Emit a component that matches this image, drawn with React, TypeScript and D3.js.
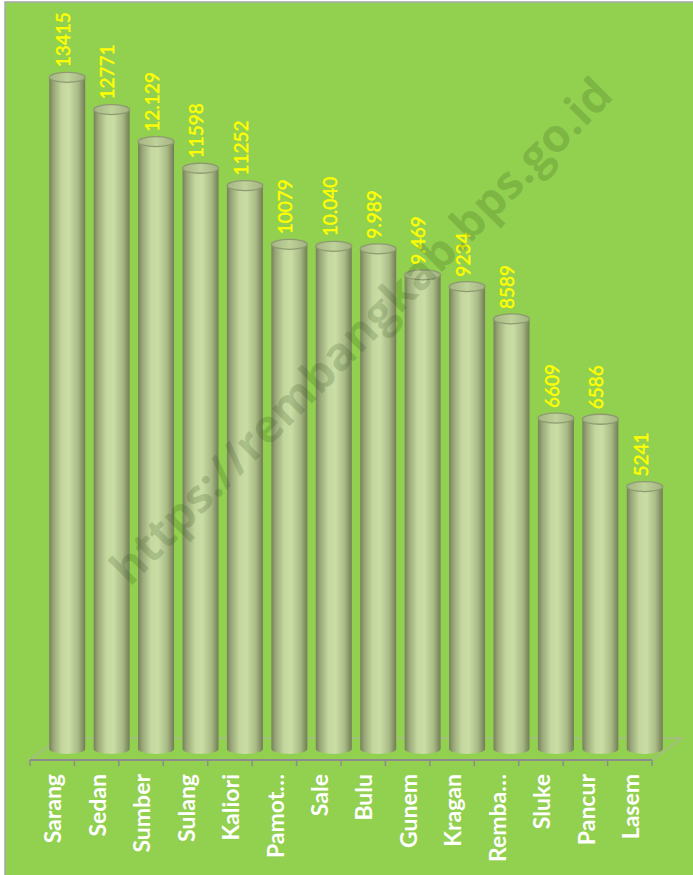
import React from "react";
import * as d3 from "d3";

const categories = ["Sarang", "Sedan", "Sumber", "Sulang", "Kaliori", "Pamot…", "Sale", "Bulu", "Gunem", "Kragan", "Remba…", "Sluke", "Pancur", "Lasem"];
const values = [13415, 12771, 12129, 11598, 11252, 10079, 10040, 9989, 9469, 9234, 8589, 6609, 6586, 5241];
const valueLabels = ["13415", "12771", "12.129", "11598", "11252", "10079", "10.040", "9.989", "9.469", "9234", "8589", "6609", "6586", "5241"];
const yDomain = [0, 14000];
const watermark = "https://rembangkab.bps.go.id";

const W = 693;
const H = 875;

export default function App() {
  const x = d3.scaleBand<string>().domain(categories).range([30, 652]).padding(0);
  const y = d3.scaleLinear().domain(yDomain).range([749, 48]);
  const bw = x.bandwidth();
  const depthX = 30;
  const depthY = 22;
  const cw = bw * 0.81;
  const ry = 5;
  const floorY = 760;
  const floor = d3.path();
  floor.moveTo(30, floorY);
  floor.lineTo(652, floorY);
  floor.lineTo(652 + depthX, floorY - depthY);
  floor.lineTo(30 + depthX, floorY - depthY);
  floor.closePath();

  return (
    <svg width={W} height={H} style={{ position: "absolute", left: 0, top: 0, background: "#fff" }}>
      <defs>
        <linearGradient id="cyl" x1="0" x2="1" y1="0" y2="0">
          <stop offset="0%" stopColor="#75805a" />
          <stop offset="12%" stopColor="#99a778" />
          <stop offset="35%" stopColor="#c3d79e" />
          <stop offset="55%" stopColor="#c9dda5" />
          <stop offset="80%" stopColor="#aabb86" />
          <stop offset="100%" stopColor="#717d56" />
        </linearGradient>
        <linearGradient id="cyltop" x1="0" x2="1" y1="0" y2="0">
          <stop offset="0%" stopColor="#a4b384" />
          <stop offset="50%" stopColor="#c0d39a" />
          <stop offset="100%" stopColor="#a2b182" />
        </linearGradient>
      </defs>
      <rect x={5} y={2} width={W} height={H} fill="#92D050" stroke="#a6a6a6" strokeWidth={1.5} />
      {/* floor */}
      <path d={floor.toString()} fill="#92D050" stroke="#a9b98f" strokeWidth={1.5} />
      <line x1={30} x2={652} y1={floorY} y2={floorY} stroke="#8c8c8c" strokeWidth={2} />
      {categories.map((c, i) => (
        <line key={"t" + i} x1={x(c)!} x2={x(c)!} y1={floorY} y2={floorY + 6} stroke="#8c8c8c" strokeWidth={1.5} />
      ))}
      <line x1={652} x2={652} y1={floorY} y2={floorY + 6} stroke="#8c8c8c" strokeWidth={1.5} />
      {/* cylinders */}
      {categories.map((c, i) => {
        const cx = x(c)! + bw / 2 + depthX / 2;
        const base = y(0);
        const top = y(values[i]);
        const l = cx - cw / 2;
        const r = cx + cw / 2;
        const body = `M${l},${top} L${l},${base} A${cw / 2},${ry} 0 0 0 ${r},${base} L${r},${top} Z`;
        return (
          <g key={"c" + i}>
            <path d={body} fill="url(#cyl)" />
            <ellipse cx={cx} cy={top} rx={cw / 2} ry={ry} fill="url(#cyltop)" stroke="#8e9b70" strokeWidth={1.3} />
            <text
              transform={`translate(${cx - 4},${top - ry - 5}) rotate(-90)`}
              dy="0.36em"
              fill="#FFFF00"
              stroke="#FFFF00"
              strokeWidth={0.45}
              fontFamily="Lato, 'Open Sans', sans-serif"
              fontSize={19}
            >
              {valueLabels[i]}
            </text>
          </g>
        );
      })}
      {/* category labels */}
      {categories.map((c, i) => (
        <text
          key={"l" + i}
          transform={`translate(${x(c)! + bw / 2 + 1},774) rotate(-90)`}
          dy="0.36em"
          textAnchor="end"
          fill="#ffffff"
          fontFamily="Lato, 'Open Sans', sans-serif"
          fontWeight="bold"
          fontSize={23}
        >
          {c}
        </text>
      ))}
      {/* watermark */}
      <text
        transform="translate(361,331) rotate(-45.3)"
        textAnchor="middle"
        dy="0.35em"
        fill="rgb(40,70,20)"
        fillOpacity={0.19}
        fontFamily="'Open Sans', sans-serif"
        fontWeight="bold"
        fontSize={46}
        textLength={690}
        lengthAdjust="spacingAndGlyphs"
      >
        {watermark}
      </text>
    </svg>
  );
}
